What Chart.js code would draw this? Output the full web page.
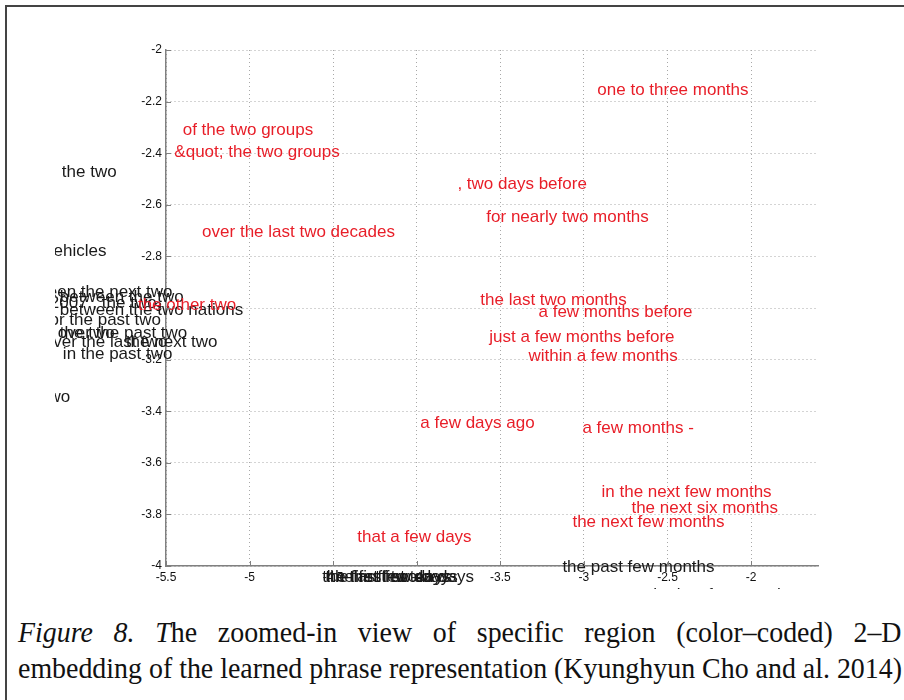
<!DOCTYPE html>
<html>
<head>
<meta charset="utf-8">
<script src="https://cdn.jsdelivr.net/npm/chart.js@4.4.0/dist/chart.umd.min.js"></script>
<style>
  body { margin: 0; background: #fff; width: 904px; height: 700px; overflow: hidden; position: relative; }
  #frame { position: absolute; left: 5px; top: 5px; width: 1000px; height: 1000px; border: 2px solid #444; }
  #chart { position: absolute; left: 0; top: 0; }
  #caption { position: absolute; left: 18px; top: 614px; width: 950px; transform: scaleX(0.93); transform-origin: 0 0;
             font-family: "Liberation Serif", "Times New Roman", serif; font-size: 30px; line-height: 36px; color: #111; }
  #caption div { text-align: justify; text-align-last: justify; white-space: nowrap; }
</style>
</head>
<body>
<div id="frame"></div>
<canvas id="chart" width="904" height="600"></canvas>
<div id="caption">
  <div><i>Figure 8. T</i>he zoomed-in view of specific region (color–coded) 2–D</div>
  <div>embedding of the learned phrase representation (Kyunghyun Cho and al. 2014)</div>
</div>
<script>
// ticks of the two axes
const xTicks = [-5.5, -5, -4.5, -4, -3.5, -3, -2.5, -2];
const yTicks = [-4, -3.8, -3.6, -3.4, -3.2, -3, -2.8, -2.6, -2.4, -2.2, -2];

// phrases in red (time expressions)
const redPhrases = ['one to three months', 'of the two groups', '&quot; the two groups', ', two days before',
    'for nearly two months', 'over the last two decades', 'the last two months', 'a few months before',
    'just a few months before', 'within a few months', 'a few days ago', 'a few months -',
    'in the next few months', 'the next six months', 'the next few months', 'that a few days', 'the other two'];
const redX = [-2.92, -5.40, -5.45, -3.757, -3.584, -5.284, -3.62, -3.272, -3.566, -3.332, -3.979, -3.009,
    -2.895, -2.716, -3.069, -4.356, -5.668];
const redY = [-2.155, -2.31, -2.395, -2.52, -2.647, -2.705, -2.969, -3.016, -3.112, -3.186, -3.446, -3.465,
    -3.713, -3.775, -3.829, -3.888, -2.988];

// phrases in black
const blackPhrases = ['the two', 'two vehicles', 'between the next two', 'between the two', '2007 , the two',
    'between the two nations', 'for the past two', 'over the past two', 'the two', 'over the last two',
    'the next two', 'in the past two', 'two', 'the first few days', 'the last few days', 'the first two days',
    'the first ten days', 'the past few months', 'the last few months'];
const blackX = [-6.123, -6.41, -6.422, -6.135, -6.195, -6.135, -6.225, -6.147, -6.135, -6.231,
    -5.74, -6.117, -6.231, -4.566, -4.548, -4.518, -4.404, -3.129, -2.614];
const blackY = [-2.473, -2.779, -2.938, -2.957, -2.981, -3.008, -3.047, -3.097, -3.097, -3.132,
    -3.132, -3.178, -3.345, -4.043, -4.043, -4.043, -4.043, -4.004, -4.112];

function points(xs, ys) {
    return xs.map((x, i) => ({ x: x, y: ys[i] }));
}

// writes each phrase at its point, left aligned, like matlab text()
const phraseLabels = {
    id: 'phraseLabels',
    afterDatasetsDraw(chart) {
        const ctx = chart.ctx;
        ctx.save();
        ctx.beginPath();
        ctx.rect(55, 0, chart.width, 589);  // the figure was cropped here
        ctx.clip();
        ctx.font = '17px "Liberation Sans", Arial, sans-serif';
        ctx.textAlign = 'left';
        ctx.textBaseline = 'middle';
        chart.data.datasets.forEach((ds, d) => {
            const meta = chart.getDatasetMeta(d);
            ctx.fillStyle = ds.textColor;
            meta.data.forEach((pt, i) => {
                ctx.fillText(ds.phrases[i], pt.x, pt.y);
            });
        });
        ctx.restore();
    }
};

// small tick marks pointing into the plot
const innerTicks = {
    id: 'innerTicks',
    afterDraw(chart) {
        const ctx = chart.ctx;
        const xs = chart.scales.x, ys = chart.scales.y;
        ctx.save();
        ctx.strokeStyle = '#808080';
        ctx.lineWidth = 1;
        ctx.beginPath();
        xTicks.forEach(v => {
            const px = Math.round(xs.getPixelForValue(v)) + 0.5;
            ctx.moveTo(px, ys.bottom);
            ctx.lineTo(px, ys.bottom - 5);
        });
        yTicks.forEach(v => {
            const py = Math.round(ys.getPixelForValue(v)) + 0.5;
            ctx.moveTo(xs.left, py);
            ctx.lineTo(xs.left + 5, py);
        });
        ctx.stroke();
        ctx.restore();
    }
};

const tickFont = { family: '"Liberation Sans", Arial, sans-serif', size: 12 };

new Chart(document.getElementById('chart'), {
    type: 'scatter',
    data: {
        datasets: [
            { phrases: blackPhrases, textColor: '#1a1a1a', data: points(blackX, blackY), pointRadius: 0, clip: false },
            { phrases: redPhrases, textColor: '#e81e28', data: points(redX, redY), pointRadius: 0, clip: false }
        ]
    },
    options: {
        responsive: false,
        animation: false,
        events: [],
        layout: { padding: { top: 50, right: 86, left: 0, bottom: 0 } },
        plugins: { legend: { display: false }, tooltip: { enabled: false } },
        scales: {
            x: {
                type: 'linear', min: -5.5, max: -1.6,
                afterBuildTicks: s => { s.ticks = xTicks.map(v => ({ value: v })); },
                afterFit: s => { s.height = 34; },
                grid: { color: '#a8a8a8', drawTicks: false },
                border: { color: '#808080', width: 1.5, dash: [1, 3] },
                ticks: { padding: 4, color: '#111', font: tickFont, maxRotation: 0, autoSkip: false, callback: v => String(v) }
            },
            y: {
                type: 'linear', min: -4, max: -2,
                afterBuildTicks: s => { s.ticks = yTicks.map(v => ({ value: v })); },
                afterFit: s => { s.width = 166; },
                grid: { color: '#a8a8a8', drawTicks: false },
                border: { color: '#808080', width: 1.5, dash: [1, 3] },
                ticks: { padding: 4, color: '#111', font: tickFont, autoSkip: false, callback: v => String(v) }
            }
        }
    },
    plugins: [phraseLabels, innerTicks]
});
</script>
</body>
</html>
